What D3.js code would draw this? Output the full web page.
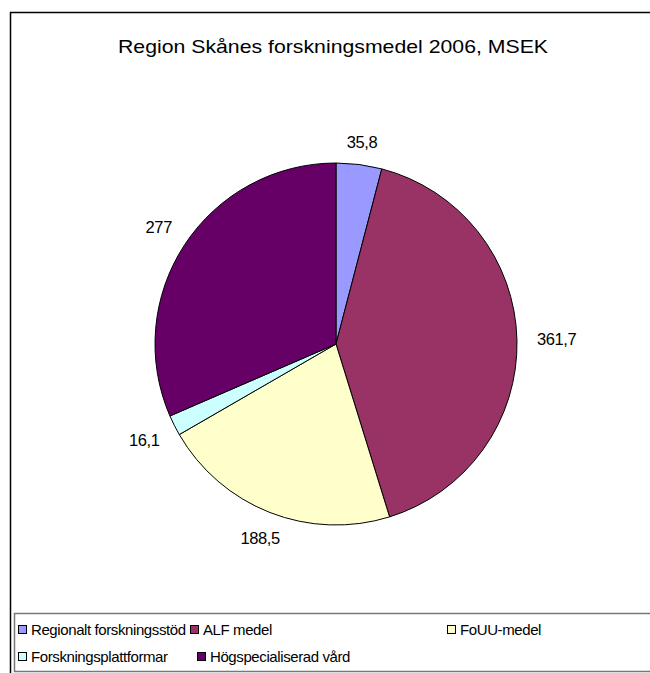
<!DOCTYPE html>
<html>
<head>
<meta charset="utf-8">
<script src="https://cdn.jsdelivr.net/npm/d3@7"></script>
<style>
  body { margin: 0; background: #fff; }
  text { font-family: "Liberation Sans", Arial, sans-serif; fill: #000; }
</style>
</head>
<body>
<div id="chart"></div>
<script>
// data
var categories = ["Regionalt forskningsstöd", "ALF medel", "FoUU-medel", "Forskningsplattformar", "Högspecialiserad vård"];
var values = [35.8, 361.7, 188.5, 16.1, 277];
var valueLabels = ["35,8", "361,7", "188,5", "16,1", "277"];
var colors = ["#9999FF", "#993366", "#FFFFCC", "#CCFFFF", "#660066"];

var width = 650, height = 673;
var cx = 336, cy = 344, radius = 181;

var svg = d3.select('#chart')
    .append('svg')
    .attr('width', width)
    .attr('height', height);

// outer chart border (runs off right and bottom)
svg.append('path')
    .attr('d', 'M10.5,' + (height + 2) + 'V12.5H' + (width + 2))
    .attr('fill', 'none')
    .attr('stroke', '#000')
    .attr('stroke-width', 1.5);

svg.append('text')
    .attr('x', 333)
    .attr('y', 53)
    .attr('text-anchor', 'middle')
    .attr('font-size', 18.5)
    .attr('textLength', 430)
    .attr('lengthAdjust', 'spacingAndGlyphs')
    .text('Region Skånes forskningsmedel 2006, MSEK');

var pie = d3.pie().sort(null).value(function(d){ return d; });
var arcs = pie(values);

var arc = d3.arc().innerRadius(0).outerRadius(radius);

var g = svg.append('g')
    .attr('transform', 'translate(' + cx + ',' + cy + ')');

g.selectAll('path')
    .data(arcs)
    .enter()
    .append('path')
    .attr('d', arc)
    .attr('fill', function(d, i){ return colors[i]; })
    .attr('stroke', '#000')
    .attr('stroke-width', 1);

// labels sit just outside the pie, pushed out by half their width sideways
g.selectAll('text.lbl')
    .data(arcs)
    .enter()
    .append('text')
    .attr('class', 'lbl')
    .attr('text-anchor', 'middle')
    .attr('dy', '0.35em')
    .attr('font-size', 16.5)
    .attr('letter-spacing', -0.4)
    .text(function(d, i){ return valueLabels[i]; })
    .attr('transform', function(d){
        var a = (d.startAngle + d.endAngle) / 2;
        var w = this.getComputedTextLength();
        var r = 201 + Math.abs(Math.sin(a)) * w / 2;
        return 'translate(' + (Math.sin(a) * r) + ',' + (-Math.cos(a) * r) + ')';
    });

// legend
svg.append('path')
    .attr('d', 'M' + (width + 2) + ',613.5H14.5V671.5H' + (width + 2))
    .attr('fill', 'none')
    .attr('stroke', '#777')
    .attr('stroke-width', 1.5);

var legendPos = [[18, 630], [190, 630], [447, 630], [18, 657], [197, 657]];

var leg = svg.selectAll('g.leg')
    .data(categories)
    .enter()
    .append('g')
    .attr('class', 'leg')
    .attr('transform', function(d, i){ return 'translate(' + legendPos[i][0] + ',' + legendPos[i][1] + ')'; });

leg.append('rect')
    .attr('x', 0.5)
    .attr('y', -4.5)
    .attr('width', 8)
    .attr('height', 8)
    .attr('fill', function(d, i){ return colors[i]; })
    .attr('stroke', '#000')
    .attr('stroke-width', 1);

leg.append('text')
    .attr('x', 13)
    .attr('dy', '0.35em')
    .attr('font-size', 15)
    .attr('letter-spacing', -0.4)
    .text(function(d){ return d; });
</script>
</body>
</html>
